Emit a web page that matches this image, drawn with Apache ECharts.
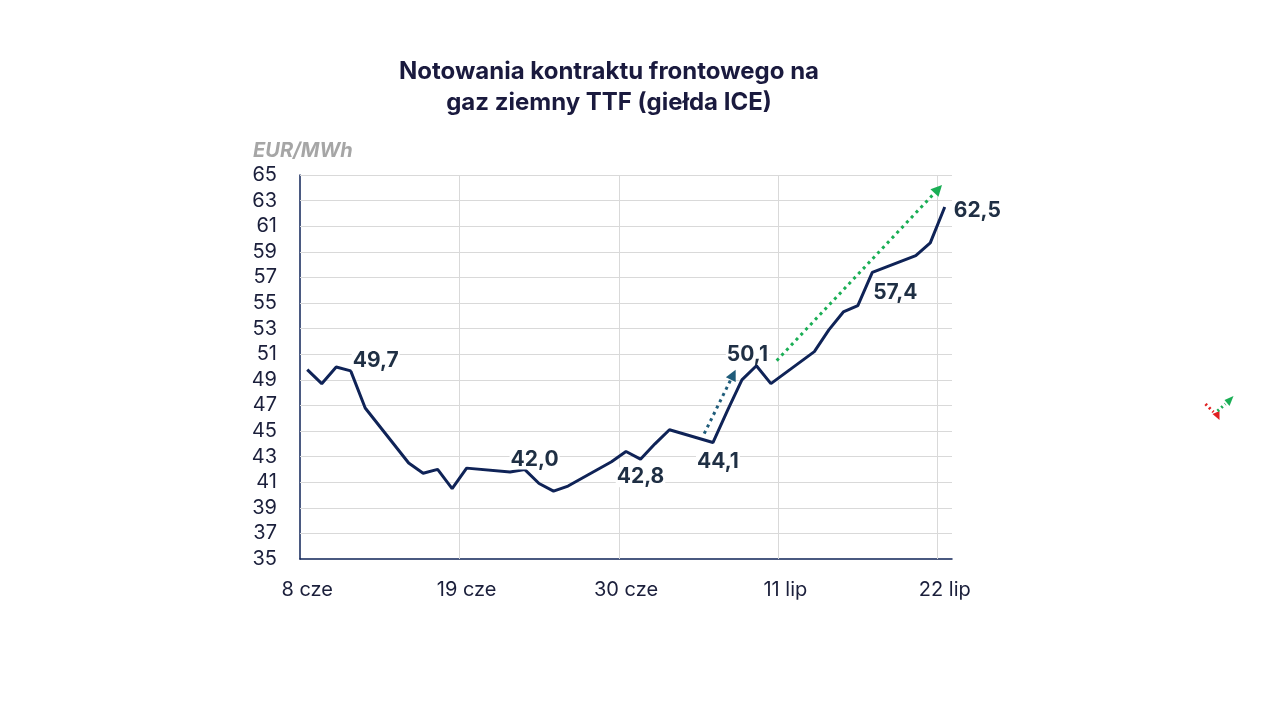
<!DOCTYPE html>
<html>
<head>
    <meta charset="utf-8">
    <title>Notowania TTF</title>
    <script src="https://cdn.jsdelivr.net/npm/echarts@6/dist/echarts.min.js"></script>
    <style>
        html, body { margin: 0; padding: 0; background: #fff; }
    </style>
</head>
<body>
<div id="main" style="width: 1280px;height:720px;"></div>
<script type="text/javascript">
    // dni kalendarzowe (8 cze - 22 lip), weekendy bez notowan
    var dates = [
        '8 cze', '9 cze', '10 cze', '11 cze', '12 cze', '13 cze', '14 cze', '15 cze', '16 cze', '17 cze',
        '18 cze', '19 cze', '20 cze', '21 cze', '22 cze', '23 cze', '24 cze', '25 cze', '26 cze', '27 cze',
        '28 cze', '29 cze', '30 cze', '1 lip', '2 lip', '3 lip', '4 lip', '5 lip', '6 lip', '7 lip',
        '8 lip', '9 lip', '10 lip', '11 lip', '12 lip', '13 lip', '14 lip', '15 lip', '16 lip', '17 lip',
        '18 lip', '19 lip', '20 lip', '21 lip', '22 lip'
    ];
    // EUR/MWh
    var prices = [
        49.8, 48.7, 50.0, 49.7, 46.8, null, null, 42.5, 41.7, 42.0,
        40.5, 42.1, null, null, 41.8, 42.0, 40.9, 40.3, 40.7, null,
        null, 42.6, 43.4, 42.8, 44.0, 45.1, null, null, 44.1, 46.6,
        49.0, 50.1, 48.7, null, null, 51.2, 52.9, 54.3, 54.8, 57.4,
        null, null, 58.7, 59.7, 62.5
    ];
    // punkty z etykieta
    var labelled = [3, 15, 23, 28, 31, 39, 44];
    // etykiety osi Y
    var yTicks = [35, 37, 39, 41, 43, 45, 47, 49, 51, 53, 55, 57, 59, 61, 63, 65];
    // co ile dni etykieta osi X
    var xStep = 11;
    // strzalki trendu [x dnia, wartosc] -> [x dnia, wartosc]
    var arrowBlue = [[27.9, 44.8], [29.9, 49.4]];
    var arrowGreen = [[32.9, 50.5], [44.05, 63.9]];

    var navy = '#0f2357';
    var textColor = '#1b1f3b';
    var gridColor = '#d9d9d9';
    var font = 'Inter';

    // ustawienie etykiet (pozycja, przesuniecie)
    var labelPlace = {
        3: ['right', [-4, -10]],
        15: ['top', [10, 5]],
        23: ['bottom', [0, 3]],
        28: ['bottom', [5, 4]],
        31: ['top', [-9, 4]],
        39: ['bottom', [23, 5]],
        44: ['right', [3, 4]]
    };

    var seriesData = prices.map(function (v, i) {
        if (labelled.indexOf(i) < 0) return v;
        return {
            value: v,
            label: {
                show: true,
                position: labelPlace[i][0],
                offset: labelPlace[i][1]
            }
        };
    });

    // linie siatki: poziome na etykietach Y, pionowe na granicach dni z etykieta
    var gridLines = yTicks.filter(function (v) { return v !== yTicks[0]; }).map(function (v) {
        return { yAxis: v };
    });
    for (var d = xStep; d < dates.length; d += xStep) {
        gridLines.push({ xAxis: d });
    }

    function arrowLine(a, color) {
        return [{ coord: a[0] }, { coord: a[1], lineStyle: { color: color } }];
    }

    var myChart = echarts.init(document.getElementById('main'));

    var option = {
        backgroundColor: '#fff',
        animation: false,
        title: [{
            text: 'Notowania kontraktu frontowego na\ngaz ziemny TTF (giełda ICE)',
            left: 604,
            top: 51,
            textAlign: 'center',
            textStyle: {
                fontFamily: font,
                fontSize: 24,
                fontWeight: 'bold',
                color: '#1a1a3e',
                lineHeight: 31
            }
        }, {
            text: 'EUR/MWh',
            left: 248,
            top: 136,
            textStyle: {
                fontFamily: font,
                fontSize: 20,
                fontWeight: 'bold',
                fontStyle: 'italic',
                color: '#a6a6a6'
            }
        }],
        grid: {
            left: 300,
            right: 328,
            top: 175,
            bottom: 161
        },
        xAxis: [{
            type: 'category',
            data: dates,
            boundaryGap: true,
            axisLine: { lineStyle: { color: navy, width: 1.5 } },
            axisTick: { show: false },
            axisLabel: {
                interval: xStep - 1,
                margin: 21,
                fontFamily: font,
                fontSize: 20,
                color: textColor
            },
            splitLine: { show: false }
        }, {
            type: 'value',
            min: 0,
            max: dates.length,
            show: false
        }],
        yAxis: {
            type: 'value',
            min: 35,
            max: 65,
            interval: 1,
            axisLine: { show: true, lineStyle: { color: navy, width: 1.5 } },
            axisTick: { show: false },
            splitLine: { show: false },
            axisLabel: {
                margin: 23,
                fontFamily: font,
                fontSize: 20,
                color: textColor,
                formatter: function (v) {
                    return yTicks.indexOf(v) >= 0 ? String(v) : '';
                }
            }
        },
        series: [{
            name: 'siatka',
            type: 'line',
            xAxisIndex: 1,
            data: [],
            z: 1,
            silent: true,
            markLine: {
                z: 1,
                silent: true,
                symbol: 'none',
                label: { show: false },
                lineStyle: { color: gridColor, width: 1, type: 'solid' },
                data: gridLines
            }
        }, {
            name: 'TTF',
            type: 'line',
            data: seriesData,
            connectNulls: true,
            showSymbol: true,
            symbol: 'circle',
            symbolSize: 0,
            z: 3,
            itemStyle: { color: navy },
            lineStyle: { color: navy, width: 3 },
            label: {
                fontFamily: font,
                fontSize: 21,
                fontWeight: 'bold',
                color: '#1f2f44',
                lineHeight: 20,
                backgroundColor: '#fff',
                padding: [0, 1],
                formatter: function (p) {
                    return p.value.toFixed(1).replace('.', ',');
                }
            }
        }, {
            name: 'strzalki',
            type: 'line',
            xAxisIndex: 1,
            data: [],
            z: 4,
            markLine: {
                z: 4,
                silent: true,
                symbol: ['none', 'triangle'],
                symbolSize: [11, 11],
                label: { show: false },
                lineStyle: { width: 3, type: [3, 4], opacity: 1 },
                data: [
                    arrowLine(arrowBlue, '#1f5c7a'),
                    arrowLine(arrowGreen, '#1aae55')
                ]
            }
        }],
        graphic: [{
            type: 'group',
            left: 1203,
            top: 396,
            silent: true,
            children: [{
                type: 'line',
                shape: { x1: 2, y1: 9, x2: 10, y2: 17 },
                style: { stroke: '#e02020', lineWidth: 3, lineDash: [2, 3] }
            }, {
                type: 'polygon',
                shape: { points: [[9, 19], [16, 25], [16, 16]] },
                style: { fill: '#e02020' }
            }, {
                type: 'line',
                shape: { x1: 14, y1: 16, x2: 22, y2: 9 },
                style: { stroke: '#1aae55', lineWidth: 3, lineDash: [2, 3] }
            }, {
                type: 'polygon',
                shape: { points: [[21, 5], [30, 1], [26, 11]] },
                style: { fill: '#1aae55' }
            }]
        }]
    };

    myChart.setOption(option);
</script>
</body>
</html>
